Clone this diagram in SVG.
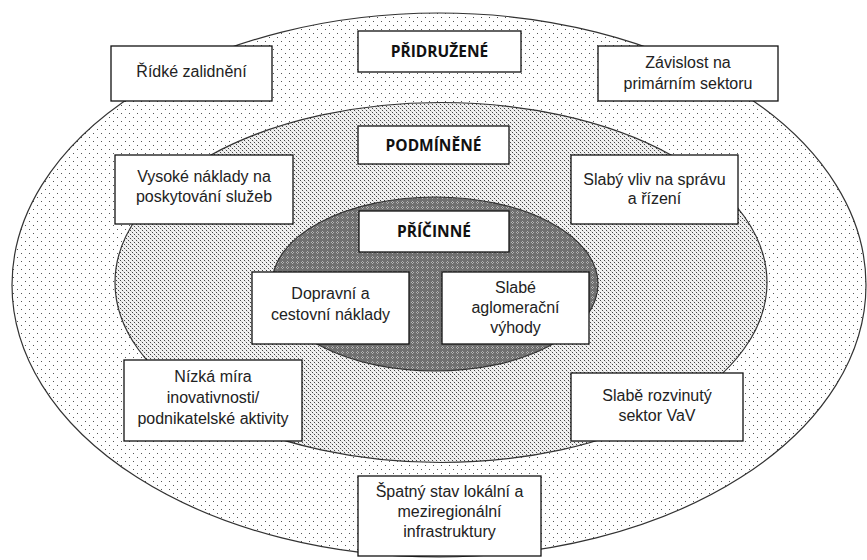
<svg xmlns="http://www.w3.org/2000/svg" width="867" height="560" viewBox="0 0 867 560">
<defs>
<pattern id="pOuter" width="8" height="8" patternUnits="userSpaceOnUse">
<rect width="8" height="8" fill="#ffffff"/>
<rect x="1" y="1" width="1" height="1" fill="#555"/>
<rect x="5" y="5" width="1" height="1" fill="#555"/>
</pattern>
<pattern id="pMid" width="4" height="4" patternUnits="userSpaceOnUse">
<rect width="4" height="4" fill="#f2f2f2"/>
<rect x="0" y="0" width="1" height="1" fill="#444"/>
<rect x="2" y="2" width="1" height="1" fill="#444"/>
<rect x="1" y="1" width="1" height="1" fill="#cfcfcf"/>
<rect x="3" y="3" width="1" height="1" fill="#cfcfcf"/>
</pattern>
<pattern id="pInner" width="5" height="5" patternUnits="userSpaceOnUse">
<rect width="5" height="5" fill="#707070"/>
<rect x="2" y="1" width="1" height="3" fill="#b4b4b4"/>
<rect x="1" y="2" width="3" height="1" fill="#b4b4b4"/>
<rect x="2" y="2" width="1" height="1" fill="#5a5a5a"/>
</pattern>
</defs>
<style>
.ell{stroke:#333;stroke-width:1.2}
.box{fill:#fff;stroke:#111;stroke-width:1.3}
.t{font-family:"Liberation Sans",Arial,sans-serif;font-size:16px;fill:#222;text-anchor:middle}
.b{font-family:"Open Sans","Liberation Sans",sans-serif;font-size:15.5px;font-weight:700;fill:#111;text-anchor:middle}
</style>
<rect width="867" height="560" fill="#fff"/>
<g id="rings">
<ellipse id="outer" class="ell" cx="439" cy="285" rx="427" ry="272" fill="url(#pOuter)"/>
<ellipse id="middle" class="ell" cx="441" cy="282.5" rx="326" ry="180" fill="url(#pMid)"/>
<ellipse id="inner" class="ell" cx="435" cy="284" rx="163" ry="87" fill="url(#pInner)"/>
</g>
<g id="connectors"></g>
<g id="n-pridruzene"><rect class="box" x="358" y="31" width="163" height="41"/><text class="b" x="439.5" y="57">PŘIDRUŽENÉ</text></g>
<g id="n-ridke"><rect class="box" x="111" y="46" width="161" height="55"/><text class="t" x="191.5" y="77">Řídké zalidnění</text></g>
<g id="n-zavislost"><rect class="box" x="598" y="46" width="180" height="55"/><text class="t" x="688" y="68">Závislost na</text><text class="t" x="688" y="89">primárním sektoru</text></g>
<g id="n-podminene"><rect class="box" x="358" y="126" width="151" height="38"/><text class="b" x="433.5" y="151">PODMÍNĚNÉ</text></g>
<g id="n-vysoke"><rect class="box" x="115" y="155" width="178" height="69"/><text class="t" x="204" y="182">Vysoké náklady na</text><text class="t" x="204" y="202">poskytování služeb</text></g>
<g id="n-slaby"><rect class="box" x="571" y="155" width="167" height="69"/><text class="t" x="654.5" y="185">Slabý vliv na správu</text><text class="t" x="654.5" y="204">a řízení</text></g>
<g id="n-pricinne"><rect class="box" x="359" y="211" width="150" height="41"/><text class="b" x="434" y="237">PŘÍČINNÉ</text></g>
<g id="n-dopravni"><rect class="box" x="252" y="272" width="157" height="72"/><text class="t" x="330.5" y="299">Dopravní a</text><text class="t" x="330.5" y="320">cestovní náklady</text></g>
<g id="n-aglomeracni"><rect class="box" x="442" y="272" width="147" height="72"/><text class="t" x="515.5" y="293">Slabé</text><text class="t" x="515.5" y="313">aglomerační</text><text class="t" x="515.5" y="333">výhody</text></g>
<g id="n-nizka"><rect class="box" x="124" y="360" width="178" height="81"/><text class="t" x="213" y="382">Nízká míra</text><text class="t" x="213" y="403">inovativnosti/</text><text class="t" x="213" y="424">podnikatelské aktivity</text></g>
<g id="n-vav"><rect class="box" x="571" y="373" width="172" height="68"/><text class="t" x="657" y="401">Slabě rozvinutý</text><text class="t" x="657" y="421">sektor VaV</text></g>
<g id="n-spatny"><rect class="box" x="358" y="476" width="183" height="80"/><text class="t" x="449.5" y="497">Špatný stav lokální a</text><text class="t" x="449.5" y="517">meziregionální</text><text class="t" x="449.5" y="537">infrastruktury</text></g>
</svg>
